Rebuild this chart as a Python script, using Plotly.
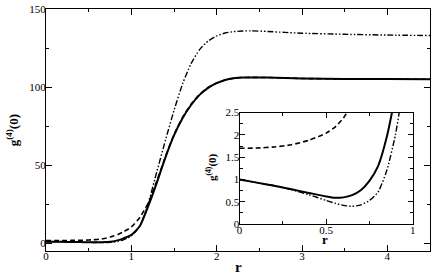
import plotly.graph_objects as go

r = [0, 0.1, 0.2, 0.3, 0.4, 0.5, 0.55, 0.6, 0.65, 0.7, 0.75, 0.8, 0.85, 0.9, 0.95, 1.0,
     1.1, 1.2, 1.3, 1.4, 1.5, 1.6, 1.7, 1.8, 1.9, 2.0, 2.1, 2.2, 2.3, 2.4, 2.6, 2.8,
     3.0, 3.5, 4.0, 4.5]

g_solid = [1.0, 0.93, 0.86, 0.78, 0.70, 0.62, 0.59, 0.60, 0.65, 0.76, 0.97, 1.3, 1.95, 2.9, 4.0, 5.3,
           11, 24, 39, 55, 69, 80, 88.5, 95, 99.5, 102.5, 104.5, 105.6, 106.1, 106.2, 106.1, 105.8,
           105.5, 105.2, 105.1, 105.0]

g_dashed = [1.70, 1.705, 1.73, 1.78, 1.88, 2.04, 2.17, 2.38, 2.7, 3.2, 3.9, 4.8, 5.8, 7.1, 8.6, 10.4,
            16.5, 26, 40, 55.5, 69.5, 80.5, 89, 95.3, 99.7, 102.6, 104.5, 105.6, 106.1, 106.2, 106.1, 105.8,
            105.5, 105.2, 105.1, 105.0]

g_dashdot = [1.0, 0.93, 0.86, 0.77, 0.66, 0.53, 0.47, 0.42, 0.40, 0.43, 0.53, 0.72, 1.2, 2.0, 3.2, 4.7,
             11, 26, 46, 66, 85, 102, 115, 124, 129.5, 132.8, 134.6, 135.5, 135.9, 136.0, 135.6, 135.0,
             134.5, 133.8, 133.3, 133.0]

main_xticks = [0, 1, 2, 3, 4]
main_yticks = [0, 50, 100, 150]
inset_xticks = [0, 0.5, 1]
inset_yticks = [0, 0.5, 1, 1.5, 2, 2.5]

FONT = "Liberation Serif"
DASH = "5px,3px"
DASHDOT = "6px,2px,1.5px,2px,1.5px,2px"

W, H = 436, 273
L, R, T, B = 46, 3, 5, 22

fig = go.Figure()
styles = [(g_solid, "solid", 2.0), (g_dashed, DASH, 1.6), (g_dashdot, DASHDOT, 1.4)]
for ys, d, w in styles:
    fig.add_trace(go.Scatter(x=r, y=ys, mode="lines", line=dict(color="black", width=w, dash=d,
                             shape="spline", smoothing=0.6), xaxis="x", yaxis="y", showlegend=False,
                             hoverinfo="skip"))
for ys, d, w in styles:
    fig.add_trace(go.Scatter(x=r, y=ys, mode="lines", line=dict(color="black", width=w, dash=d,
                             shape="spline", smoothing=0.6), xaxis="x2", yaxis="y2", showlegend=False,
                             hoverinfo="skip"))

axcommon = dict(showline=True, linecolor="black", linewidth=1, mirror="allticks", ticks="inside",
                showgrid=False, zeroline=False, tickcolor="black",
                tickfont=dict(family=FONT, size=11, color="black"))


def minor(dt, ln):
    return dict(dtick=dt, tick0=0, ticklen=ln, ticks="inside", tickcolor="black")


def pxann(text, px, py, size, angle=0):
    return dict(text=text, xref="paper", yref="paper",
                x=(px - L) / (W - L - R), y=(H - B - py) / (H - T - B),
                xanchor="center", yanchor="middle", showarrow=False, textangle=angle,
                font=dict(family=FONT, size=size, color="black"))


fig.update_layout(
    width=W, height=H,
    margin=dict(l=L, r=R, t=T, b=B),
    paper_bgcolor="white", plot_bgcolor="white",
    xaxis=dict(range=[0, 4.5], tickvals=main_xticks, ticklen=6, minor=minor(0.5, 3),
               ticklabelstandoff=-5, domain=[0, 1], **axcommon),
    yaxis=dict(range=[-5, 150], tickvals=main_yticks, ticklen=6, minor=minor(25, 3),
               ticklabelstandoff=-3, domain=[0, 1], **axcommon),
    xaxis2=dict(range=[0, 1], tickvals=inset_xticks, ticklen=5, anchor="y2", minor=minor(0.25, 3),
                ticklabelstandoff=-4, domain=[0.504, 0.955], **axcommon),
    yaxis2=dict(range=[0, 2.5], tickvals=inset_yticks, ticklen=5, anchor="x2", minor=minor(0.25, 3),
                ticklabelstandoff=-3, domain=[0.111, 0.572], **axcommon),
    shapes=[dict(type="rect", xref="x2 domain", yref="y2 domain", x0=0, x1=1, y0=0, y1=1,
                 fillcolor="white", line=dict(width=0), layer="below")],
    annotations=[
        pxann("<b>r</b>", 240, 267.5, 15),
        pxann("<b>g<sup>(4)</sup>(0)</b>", 12, 128, 13, -90),
        pxann("<b>r</b>", 327, 239, 13),
        pxann("<b>g<sup>(4)</sup>(0)</b>", 213, 166, 11, -90),
    ],
)

fig.write_html("out.html", config={"displayModeBar": False, "staticPlot": True},
               post_script="document.body.style.margin='0';document.body.style.overflow='hidden';")
